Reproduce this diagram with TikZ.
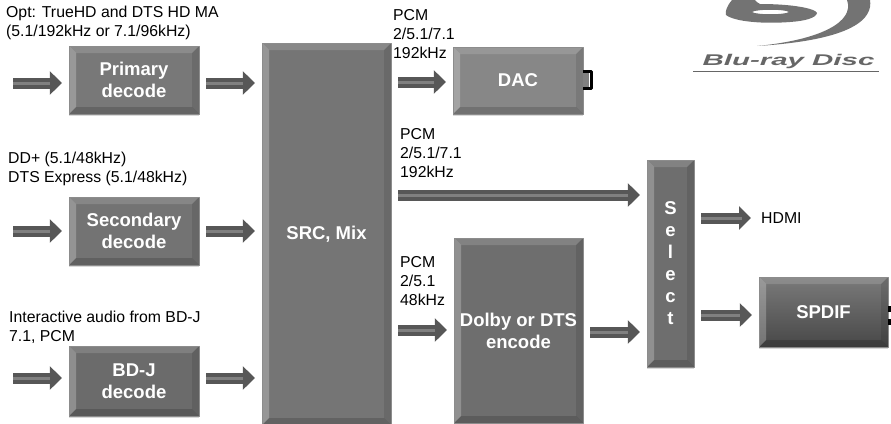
\documentclass[tikz,border=0pt]{standalone}
\usepackage{fontspec}
\setmainfont{Liberation Sans}
\usetikzlibrary{arrows.meta,calc,shadows}
\tikzset{
	blockbox/.style={draw=black!45,line width=0.3pt,text=white,align=center,inner sep=0pt,
		font=\fontsize{18.5}{22}\selectfont\bfseries,
		top color=black!#1,bottom color=black!#1,middle color=black!#1,
		drop shadow={shadow xshift=0pt,shadow yshift=-2pt,opacity=.25,fill=black!60},
		path picture={
			\coordinate (nw) at (path picture bounding box.north west);
			\coordinate (ne) at (path picture bounding box.north east);
			\coordinate (sw) at (path picture bounding box.south west);
			\coordinate (se) at (path picture bounding box.south east);
			\coordinate (inw) at ($(nw)+(7pt,-7pt)$);
			\coordinate (ine) at ($(ne)+(-7pt,-7pt)$);
			\coordinate (isw) at ($(sw)+(7pt,7pt)$);
			\coordinate (ise) at ($(se)+(-7pt,7pt)$);
			\fill[white,opacity=.14] (nw)--(ne)--(ine)--(inw)--cycle;
			\fill[white,opacity=.24] (nw)--(sw)--(isw)--(inw)--cycle;
			\fill[black,opacity=.10] (ne)--(se)--(ise)--(ine)--cycle;
			\fill[black,opacity=.16] (sw)--(se)--(ise)--(isw)--cycle;
		}},
	flow/.style={line width=11pt,draw=black!66,shorten >=7pt,
		-{Triangle[length=12pt,width=23pt]},
		postaction={draw=black!50,line width=3pt,-,shorten >=19pt}},
	lbl/.style={anchor=west,align=left,inner sep=0pt,
		font=\fontsize{15.8}{19}\selectfont},
	jack/.style={line width=3pt,draw=black}
}
\newfontface\logofont{Liberation Sans Bold Italic}
\begin{document}
\begin{tikzpicture}[x=1pt,y=-1pt,line join=round]
	\path[use as bounding box] (0,0) rectangle (891,423);
	\clip (0,0) rectangle (891,423);
	% blocks
	\foreach \t/\x/\y/\w/\h/\g/\s in {prim/134/80/130/68/53/{Primary\\decode},
		sec/134/231/130/68/55/{Secondary\\decode},
		bdj/134/381/130/70/58/{BD-J\\decode},
		src/326.5/234/129/382/54/{SRC, Mix},
		dac/518/80.5/130/67/47/{DAC},
		enc/518.5/330.5/129/185/57/{Dolby or DTS\\encode},
		sel/670.5/263.5/47/207/57/{S\\e\\l\\e\\c\\t}}
	\node[blockbox=\g,minimum width=\w pt,minimum height=\h pt] (\t) at (\x,\y) {\s};
	\node[blockbox=62,top color=black!52,bottom color=black!72,middle color=black!62,
		minimum width=129pt,minimum height=70pt] (spdif) at (823.5,312) {SPDIF};
	% labels
	\node[lbl] (optlbl) at (6,23) {Opt: TrueHD and DTS HD MA\\(5.1/192kHz or 7.1/96kHz)};
	\node[lbl] (ddlbl) at (8,168.5) {DD+ (5.1/48kHz)\\DTS Express (5.1/48kHz)};
	\node[lbl] (bdjlbl) at (9,327.5) {Interactive audio from BD-J\\7.1, PCM};
	\node[lbl] (pcma) at (393,34) {PCM\\2/5.1/7.1\\192kHz};
	\node[lbl] (pcmb) at (400,153) {PCM\\2/5.1/7.1\\192kHz};
	\node[lbl] (pcmc) at (400,281) {PCM\\2/5.1\\48kHz};
	\node[lbl] (hdmi) at (761,218) {HDMI};
	% arrows
	\foreach \x\y\t in {13/83/ina,13/231/inb,13/378/inc}
	\coordinate (\t) at (\x,\y);
	\foreach \a/\b in {ina/prim,inb/sec,inc/bdj}
	\draw[flow] (\a) -- (\a -| \b.west);
	\foreach \a/\b/\y in {prim/src/83,sec/src/231,bdj/src/378,src/dac/82,src/sel/195,src/enc/330,enc/sel/332,sel/spdif/315}
	\draw[flow,shorten <=7pt] (\a.east |- 0,\y) -- (\b.west |- 0,\y);
	\draw[flow,shorten <=7pt,shorten >=10pt] (sel.east |- hdmi) -- (hdmi.west);
	% jacks
	\fill[black!50] (dac.east |- 0,71) rectangle ++(6,17);
	\draw[jack] (dac.east |- 0,71) -- ++(8,0) -- ++(0,17) -- ++(-8,0);
	\draw[jack,line width=6pt] (spdif.east |- 0,309) -- ++(9,0) -- ++(0,13) -- ++(-9,0);
	% logo
	\fill[black!55,even odd rule] (732,0) .. controls (727,6) and (725,11) .. (726,15)
		.. controls (735,22) and (765,24) .. (790,22)
		.. controls (805,21) and (816,18) .. (817,13)
		.. controls (816,9) and (795,4) .. (760,4)
		.. controls (757,3) and (756,1) .. (755,0) -- cycle
		(752,12) .. controls (756,9) and (785,9) .. (789,12)
		.. controls (785,15) and (756,15) .. (752,12);
	\fill[black!55] (847,0) -- (870,0) .. controls (873,18) and (855,40) .. (757,46)
		.. controls (820,40) and (855,22) .. (847,0) -- cycle;
	\node[text=black!60,inner sep=0pt,font=\fontsize{15.5}{17}\logofont,xscale=1.9] (logotxt) at (788.5,61) {Blu-ray Disc};
	\coordinate (logol) at (693,71);
	\coordinate (logor) at (879,71);
	\draw[black!60,line width=1pt] (logol) -- (logor);
\end{tikzpicture}
\end{document}
